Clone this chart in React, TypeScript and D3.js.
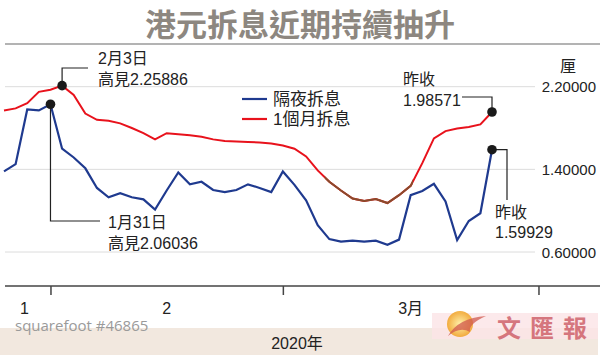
import React, { useEffect, useRef } from "react";
import * as d3 from "d3";

// trading days shown on the chart (HK, Lunar New Year holidays skipped)
const dates = [
  "1/23", "1/24", "1/29", "1/30", "1/31",
  "2/3", "2/4", "2/5", "2/6", "2/7", "2/10", "2/11", "2/12", "2/13", "2/14",
  "2/17", "2/18", "2/19", "2/20", "2/21", "2/24", "2/25", "2/26", "2/27", "2/28",
  "3/2", "3/3", "3/4", "3/5", "3/6", "3/9", "3/10", "3/11", "3/12", "3/13",
  "3/16", "3/17", "3/18", "3/19", "3/20", "3/23", "3/24", "3/25",
];

// 隔夜拆息
const overnight = [
  1.38, 1.45, 1.98, 1.97, 2.03,
  1.60, 1.515, 1.41, 1.22, 1.13, 1.17, 1.13, 1.11, 1.01, 1.195,
  1.37, 1.255, 1.28, 1.20, 1.18, 1.20, 1.255, 1.22, 1.18, 1.38,
  1.25, 1.10, 0.86, 0.725, 0.70, 0.71, 0.70, 0.71, 0.67, 0.72,
  1.15, 1.19, 1.26, 1.09, 0.715, 0.90, 0.975, 1.59,
];

// 1個月拆息
const oneMonth = [
  1.97, 1.99, 2.04, 2.15, 2.17,
  2.21, 2.12, 1.94, 1.88, 1.87, 1.845, 1.80, 1.75, 1.69, 1.75,
  1.74, 1.73, 1.715, 1.69, 1.675, 1.67, 1.665, 1.66, 1.65, 1.63,
  1.60, 1.525, 1.39, 1.28, 1.195, 1.118, 1.094, 1.113, 1.074, 1.15,
  1.24, 1.46, 1.70, 1.77, 1.795, 1.81, 1.835, 1.955,
];

const monthLabels = ["1", "2", "3月"];
// index of last trading day in each month (31 Mar is 4 trading days after 25 Mar)
const monthEndIdx = [4, 24, 46];
const yTicks = [0.6, 1.4, 2.2];

const latin = "'Liberation Sans', 'Noto Sans CJK TC', sans-serif";
const cjk = "'Noto Sans CJK TC', sans-serif";

export default function App() {
  const ref = useRef<SVGSVGElement>(null);

  useEffect(() => {
    const svg = d3.select(ref.current);
    svg.selectAll("*").remove();

    const x = d3.scaleLinear().domain([0, dates.length - 1]).range([4, 492]);
    const y = d3.scaleLinear().domain([0.6, 2.2]).range([252, 86.7]);

    svg.append("rect").attr("width", 600).attr("height", 360).attr("fill", "#fff");

    // title
    svg.append("text")
      .attr("x", 300).attr("y", 36)
      .attr("text-anchor", "middle")
      .attr("font-family", cjk).attr("font-weight", 700).attr("font-size", 31)
      .attr("fill", "#8d8780")
      .text("港元拆息近期持續抽升");

    svg.append("line").attr("x1", 5).attr("x2", 600).attr("y1", 44).attr("y2", 44)
      .attr("stroke", "#9a9a9a").attr("stroke-width", 1.5);

    // grid + right labels
    const fmt = d3.format(".5f");
    yTicks.forEach(t => {
      svg.append("line").attr("x1", 5).attr("x2", 535).attr("y1", y(t)).attr("y2", y(t))
        .attr("stroke", "#dcdcdc").attr("stroke-width", 1);
      svg.append("text").attr("x", 596).attr("y", y(t))
        .attr("text-anchor", "end").attr("dominant-baseline", "central")
        .attr("font-family", latin).attr("font-size", 15).attr("fill", "#222")
        .text(fmt(t));
    });
    svg.append("text").attr("x", 568).attr("y", 65)
      .attr("text-anchor", "middle").attr("dominant-baseline", "central")
      .attr("font-family", cjk).attr("font-size", 16).attr("fill", "#222").text("厘");

    const line = d3.line<number>().x((d, i) => x(i)).y(d => y(d));

    // 1-month line, with the brownish stretch in the trough
    svg.append("path").datum(oneMonth).attr("d", line)
      .attr("fill", "none").attr("stroke", "#e8121c").attr("stroke-width", 2);
    svg.append("clipPath").attr("id", "trough")
      .append("rect").attr("x", x(27.6)).attr("y", 0)
      .attr("width", x(35.2) - x(27.6)).attr("height", 360);
    svg.append("path").datum(oneMonth).attr("d", line)
      .attr("clip-path", "url(#trough)")
      .attr("fill", "none").attr("stroke", "#8a4b2c").attr("stroke-width", 2);

    svg.append("path").datum(overnight).attr("d", line)
      .attr("fill", "none").attr("stroke", "#1f3a8f").attr("stroke-width", 2.2);

    // legend
    const legend = [
      { label: "隔夜拆息", color: "#1f3a8f", y: 99 },
      { label: "1個月拆息", color: "#e8121c", y: 119 },
    ];
    legend.forEach(l => {
      svg.append("line").attr("x1", 242).attr("x2", 267).attr("y1", l.y).attr("y2", l.y)
        .attr("stroke", l.color).attr("stroke-width", 2.2);
      svg.append("text").attr("x", 273).attr("y", l.y)
        .attr("dominant-baseline", "central")
        .attr("font-family", latin).attr("font-size", 17).attr("fill", "#222")
        .text(l.label);
    });

    // annotations
    const last = dates.length - 1;
    const notes = [
      { cx: x(5), cy: y(oneMonth[5]), path: (cx: number, cy: number) => `M${cx},${cy}V68H88`,
        lines: ["2月3日", "高見2.25886"], tx: 98, ty: [58, 79] },
      { cx: x(4), cy: y(overnight[4]), path: (cx: number, cy: number) => `M${cx},${cy}V221H100`,
        lines: ["1月31日", "高見2.06036"], tx: 108, ty: [222, 243] },
      { cx: x(last), cy: y(oneMonth[last]), path: (cx: number, cy: number) => `M${cx},${cy}V97H462`,
        lines: ["昨收", "1.98571"], tx: 403, ty: [79, 100] },
      { cx: x(last), cy: y(overnight[last]), path: (cx: number, cy: number) => `M${cx},${cy}H507V200`,
        lines: ["昨收", "1.59929"], tx: 495, ty: [212, 232] },
    ];
    notes.forEach(n => {
      svg.append("path").attr("d", n.path(n.cx, n.cy))
        .attr("fill", "none").attr("stroke", "#222").attr("stroke-width", 1.2);
      svg.append("circle").attr("cx", n.cx).attr("cy", n.cy).attr("r", 4.8).attr("fill", "#1a1a1a");
      n.lines.forEach((t, i) => {
        svg.append("text").attr("x", n.tx).attr("y", n.ty[i])
          .attr("dominant-baseline", "central")
          .attr("font-family", latin).attr("font-size", 16).attr("fill", "#222")
          .text(t);
      });
    });

    // bottom axis
    const axis = svg.append("g").attr("transform", "translate(0,286)")
      .call(d3.axisBottom(x).tickValues(monthEndIdx).tickSize(9).tickFormat(() => ""));
    axis.select(".domain").remove();
    axis.selectAll("line").attr("stroke", "#444").attr("stroke-width", 1.5);
    svg.append("line").attr("x1", 5).attr("x2", 600).attr("y1", 286).attr("y2", 286)
      .attr("stroke", "#444").attr("stroke-width", 1.5);

    monthLabels.forEach((m, i) => {
      const a = i === 0 ? -0.5 : monthEndIdx[i - 1];
      svg.append("text").attr("x", (x(a) + x(monthEndIdx[i])) / 2).attr("y", 308)
        .attr("text-anchor", "middle").attr("dominant-baseline", "central")
        .attr("font-family", latin).attr("font-size", 16).attr("fill", "#222")
        .text(m);
    });

    // footer band
    svg.append("rect").attr("x", 0).attr("y", 328).attr("width", 598).attr("height", 27)
      .attr("fill", "#f2e8df");
    svg.append("rect").attr("x", 432).attr("y", 313).attr("width", 166).attr("height", 26)
      .attr("fill", "#fbe4e6").attr("opacity", 0.8);
    svg.append("text").attr("x", 297).attr("y", 343)
      .attr("text-anchor", "middle").attr("dominant-baseline", "central")
      .attr("font-family", latin).attr("font-size", 16).attr("fill", "#222")
      .text("2020年");

    svg.append("text").attr("x", 15).attr("y", 325)
      .attr("dominant-baseline", "central")
      .attr("font-family", "'Open Sans', sans-serif").attr("font-size", 15).attr("fill", "#9a9a9a")
      .text("squarefoot #46865");

    // logo watermark
    const grad = svg.append("defs").append("radialGradient").attr("id", "sun");
    grad.append("stop").attr("offset", "0%").attr("stop-color", "#fff3a0");
    grad.append("stop").attr("offset", "100%").attr("stop-color", "#f0a020");
    svg.append("circle").attr("cx", 460).attr("cy", 324).attr("r", 13)
      .attr("fill", "url(#sun)").attr("opacity", 0.85);
    svg.append("path").attr("d", "M448,336 Q458,318 486,316 Q468,324 470,332 Q460,326 448,336Z")
      .attr("fill", "#d0584e").attr("opacity", 0.75);
    svg.append("text").attr("x", 497).attr("y", 326)
      .attr("dominant-baseline", "central")
      .attr("font-family", cjk).attr("font-weight", 700).attr("font-size", 24)
      .attr("letter-spacing", 9).attr("fill", "#c9505a").attr("opacity", 0.75)
      .text("文匯報");
  }, []);

  return (
    <div style={{ position: "absolute", left: 0, top: 0 }}>
      <svg ref={ref} width={600} height={360} />
    </div>
  );
}
